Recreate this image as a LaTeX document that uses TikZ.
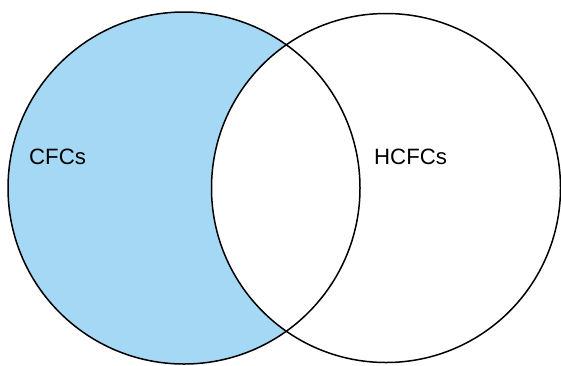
\documentclass[tikz,border=0pt]{standalone}
\usepackage{fontspec}
\setmainfont{Liberation Sans}
\definecolor{cfcblue}{HTML}{A5D8F4}
\begin{document}
\begin{tikzpicture}[x=1pt,y=-1pt,
  ring/.style={draw=black,line width=1.5pt},
  lbl/.style={anchor=base west,inner sep=0pt,font=\fontsize{22.2}{25}\selectfont}]
\useasboundingbox (0,0) rectangle (561,365);
\coordinate (cl) at (184,188);
\coordinate (cr) at (386,188);
\fill[cfcblue] (cl) circle[radius=176];
\fill[white] (cr) circle[radius=174.5];
\draw[ring] (cl) circle[radius=176];
\draw[ring] (cr) circle[radius=174.5];
\node[lbl] (cfc) at (29,164) {CFCs};
\node[lbl] (hcfc) at (374,164) {HCFCs};
\end{tikzpicture}
\end{document}
